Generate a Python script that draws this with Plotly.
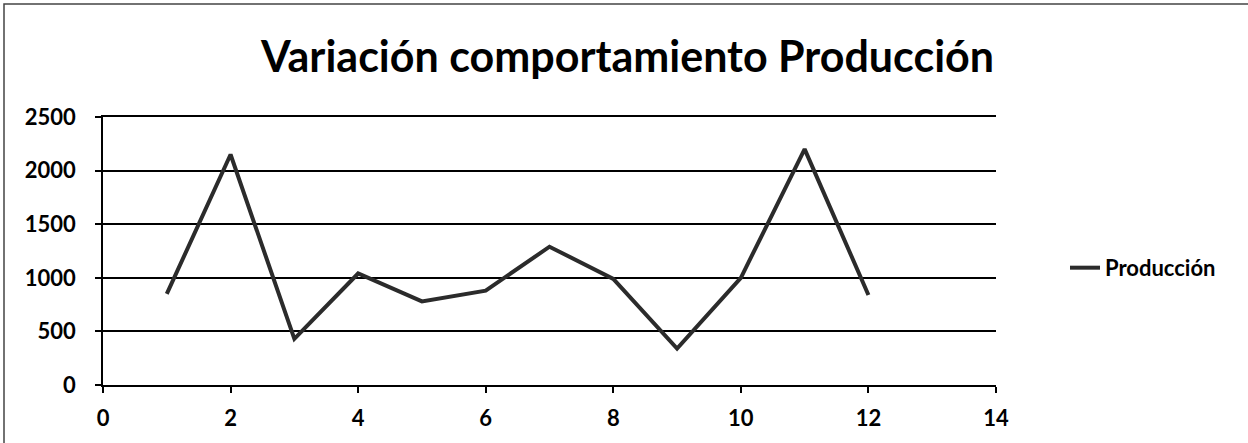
import plotly.graph_objects as go

# Production per period
periods = [1, 2, 3, 4, 5, 6, 7, 8, 9, 10, 11, 12]
produccion = [850, 2150, 430, 1040, 780, 880, 1290, 990, 340, 1000, 2200, 840]

x_ticks = [0, 2, 4, 6, 8, 10, 12, 14]
y_ticks = [0, 500, 1000, 1500, 2000, 2500]

FONT = "Lato, 'Open Sans', 'DejaVu Sans', sans-serif"

fig = go.Figure()
fig.add_trace(go.Scatter(
    x=periods, y=produccion, mode="lines", name="<b>Producción</b>",
    line=dict(color="#2b2b2b", width=4),
))

fig.update_layout(
    width=1248, height=443,
    margin=dict(l=103, r=252, t=117, b=58),
    paper_bgcolor="white", plot_bgcolor="white",
    title=dict(
        text="<b>Variación comportamiento Producción</b>",
        font=dict(family=FONT, size=43, color="black"),
        xref="container", x=627.5 / 1248, xanchor="center",
        yref="container", y=1 - 57 / 443, yanchor="middle",
    ),
    showlegend=True,
    legend=dict(
        x=(1065 - 103) / 893, y=0.437, xanchor="left", yanchor="middle",
        font=dict(family=FONT, size=22, color="black"),
        bgcolor="rgba(0,0,0,0)",
    ),
    xaxis=dict(
        range=[0, 14], tickvals=x_ticks, ticktext=[f"<b>{v}</b>" for v in x_ticks],
        showgrid=False, zeroline=False,
        showline=True, mirror=True, linecolor="black", linewidth=1.5,
        ticks="outside", ticklen=6, tickcolor="black", tickwidth=1.5,
        ticklabelstandoff=7,
        tickfont=dict(family=FONT, size=22, color="black"),
    ),
    yaxis=dict(
        range=[0, 2500], tickvals=y_ticks, ticktext=[f"<b>{v}</b>" for v in y_ticks],
        showgrid=True, gridcolor="black", gridwidth=1.5, zeroline=False,
        showline=True, linecolor="black", linewidth=1.5,
        ticks="outside", ticklen=6, tickcolor="black", tickwidth=1.5,
        ticklabelstandoff=15,
        tickfont=dict(family=FONT, size=22, color="black"),
    ),
    shapes=[dict(
        type="rect", xref="paper", yref="paper",
        x0=(4 - 103) / 893, x1=1.4, y0=-0.4, y1=(385 - 4) / 268,
        line=dict(color="#444", width=1.5), fillcolor="rgba(0,0,0,0)",
    )],
)

fig.write_html("out.html")
